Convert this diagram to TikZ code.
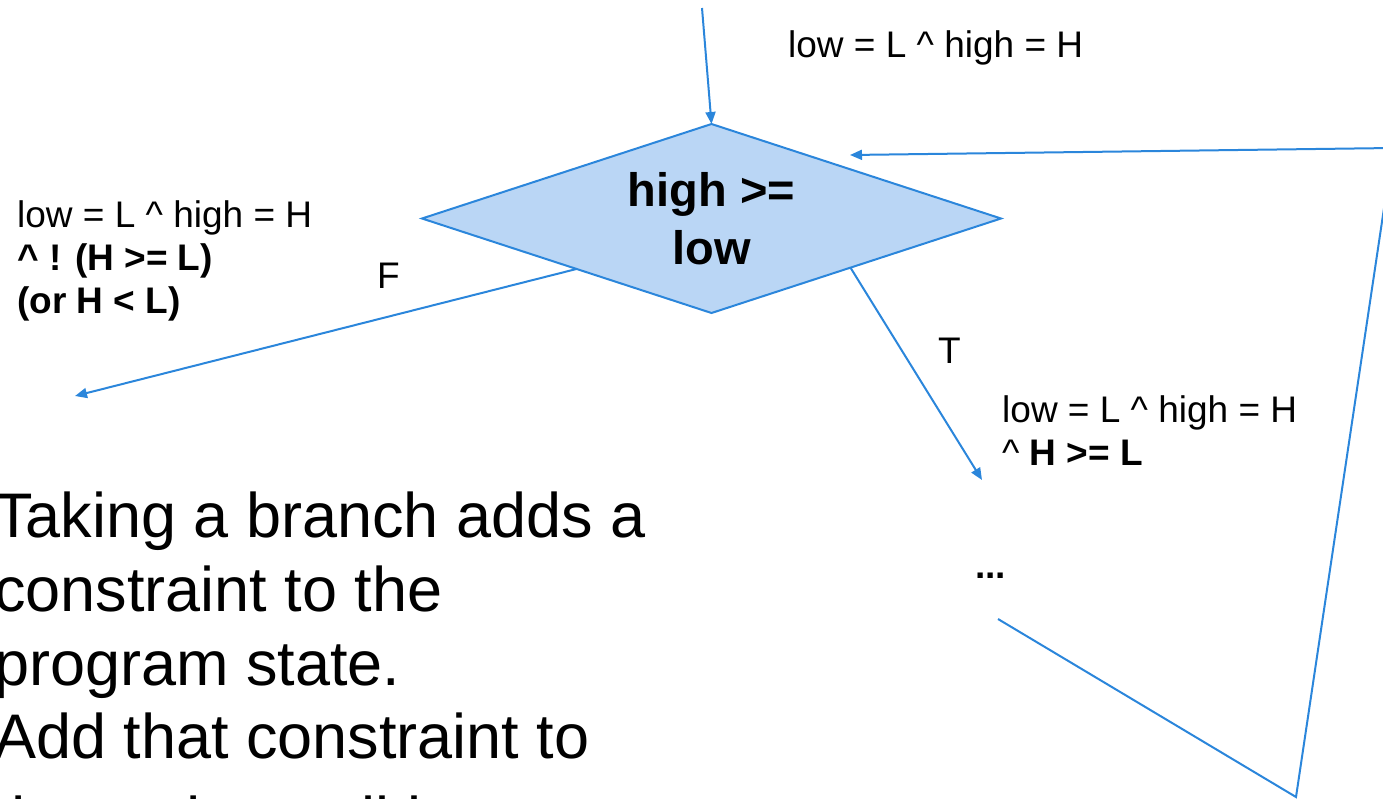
\documentclass[tikz,border=0pt]{standalone}
\usepackage{fontspec}
\setmainfont{Liberation Sans}
\usetikzlibrary{shapes.geometric,arrows.meta,calc}
\definecolor{lineblue}{RGB}{43,134,219}
\definecolor{fillblue}{RGB}{186,214,245}
\tikzset{
  conn/.style={draw=lineblue, line width=2pt},
  arr/.style={conn, -{Triangle[length=12pt,width=10pt]}},
  txt/.style={anchor=base west, inner sep=0pt, font=\fontsize{37}{44}\selectfont},
  bigtxt/.style={anchor=base west, inner sep=0pt, font=\fontsize{63}{74}\selectfont},
  decision/.style={diamond, draw=lineblue, fill=fillblue, line width=2pt,
    minimum width=579pt, minimum height=189pt, aspect=3.06, inner sep=0pt,
    outer sep=0pt, align=center, font=\fontsize{47}{58}\selectfont\bfseries},
}
\begin{document}
\begin{tikzpicture}[x=1pt,y=-1pt]
\useasboundingbox (0,0) rectangle (1383,798);
\clip (0,0) rectangle (1383,798);

% decision node
\node[decision] (dia) at (711.5,218.5) {high >=\\low};

% labels
\node[txt] (toplbl) at (788,57) {low = L \textasciicircum{} high = H};
\node[txt] (fl1) at (17,227) {low = L \textasciicircum{} high = H};
\node[txt] (fl2) at (17,270) {\bfseries \textasciicircum{} ! (H >= L)};
\node[txt] (fl3) at (17,313) {\bfseries (or H < L)};
\node[txt] (flbl) at (377,288) {F};
\node[txt] (tlbl) at (938,363) {T};
\node[txt] (tl1) at (1002,422) {low = L \textasciicircum{} high = H};
\node[txt] (tl2) at (1002,465) {\textasciicircum{} \textbf{H >= L}};
\node[txt] (dots) at (975,578) {\bfseries ...};

% big text
\node[bigtxt] (b1) at (-6,537) {Taking a branch adds a};
\node[bigtxt] (b2) at (-6,611) {constraint to the};
\node[bigtxt] (b3) at (-6,685) {program state.};
\node[bigtxt] (b4) at (-6,758) {Add that constraint to};
\node[bigtxt] (b5) at (-6,841) {the path condition.};

% connectors
\coordinate (topin) at (702,8);
\draw[arr] (topin) -- (dia.north);

\coordinate (fend) at (75,396);
\draw[arr] ($(dia.west)!0.534!(dia.south)$) -- (fend);

\coordinate (tend) at (982,480);
\draw[arr] ($(dia.east)!0.52!(dia.south)$) -- (tend);

\coordinate (lstart) at (998,619);
\coordinate (lc1) at (1296,797);
\coordinate (lc2) at (1393,148);
\coordinate (lend) at (850,155);
\draw[arr] (lstart) -- (lc1) -- (lc2) -- (lend);
\end{tikzpicture}
\end{document}
